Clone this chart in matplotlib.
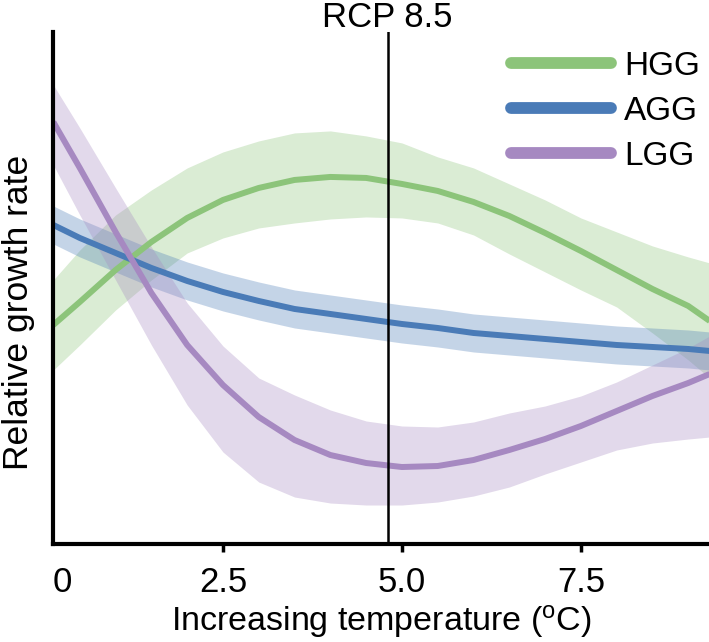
import matplotlib.pyplot as plt
from matplotlib.lines import Line2D

plt.rcParams['font.family'] = ['Liberation Sans', 'DejaVu Sans']

# temperature increase (oC) and relative growth rate (arbitrary units)
temp = [0.13, 0.5, 1.0, 1.5, 2.0, 2.5, 3.0, 3.5, 4.0, 4.5,
        5.0, 5.5, 6.0, 6.5, 7.0, 7.5, 8.0, 8.5, 9.0, 9.3]

hgg = [219, 242, 274, 302, 326, 344, 356, 364, 367, 366,
       360, 353, 342, 328, 311, 293, 274, 255, 238, 223]
hgg_hi = [264, 294, 329, 354, 376, 392, 403, 411, 413, 408,
          401, 387, 376, 360, 344, 326, 312, 298, 287, 281]
hgg_lo = [174, 199, 234, 264, 291, 306, 316, 321, 325, 327,
          326, 321, 309, 290, 272, 254, 237, 211, 184, 166]

agg = [319, 306, 291, 276, 263, 252, 243, 235, 230, 225,
       220, 216, 211, 208, 205, 202, 199, 197, 195, 193]
agg_hi = [338, 325, 310, 295, 282, 271, 262, 254, 249, 244,
          239, 235, 230, 227, 224, 221, 218, 216, 214, 212]
agg_lo = [300, 287, 272, 257, 244, 233, 224, 216, 211, 206,
          201, 197, 192, 189, 186, 183, 180, 178, 176, 174]

lgg = [422, 376, 312, 251, 199, 159, 127, 104, 89, 81,
       77, 78, 84, 94, 105, 118, 133, 148, 161, 170]
lgg_hi = [459, 416, 356, 297, 241, 198, 166, 149, 134, 123,
          118, 117, 122, 131, 138, 148, 162, 179, 196, 208]
lgg_lo = [379, 329, 264, 199, 139, 92, 62, 47, 41, 39,
          39, 42, 48, 57, 70, 82, 94, 101, 105, 107]

rcp85 = 4.8
tick_pos = [0.25, 2.5, 5.0, 7.5]
tick_labels = ['0', '2.5', '5.0', '7.5']

green = '#8cc47a'
blue = '#4a7bb7'
purple = '#a689c1'

fig = plt.figure(figsize=(7.09, 6.42), dpi=100)
ax = fig.add_axes([0.0748, 0.1526, 0.9252, 0.7977])

series = [(hgg, hgg_lo, hgg_hi, green, 'HGG'),
          (agg, agg_lo, agg_hi, blue, 'AGG'),
          (lgg, lgg_lo, lgg_hi, purple, 'LGG')]

for mid, lo, hi, col, name in series:
    ax.fill_between(temp, lo, hi, color=col, alpha=0.32, lw=0)
for mid, lo, hi, col, name in series:
    ax.plot(temp, mid, color=col, lw=4.3, solid_capstyle='butt',
            solid_joinstyle='round')

ax.axvline(rcp85, color='black', lw=1.8, zorder=5)
ax.text(rcp85, 1.01, 'RCP 8.5', transform=ax.get_xaxis_transform(),
        ha='center', va='baseline', fontsize=25)

ax.set_xlim(0.126, 9.29)
ax.set_ylim(0, 512)

for side in ['top', 'right']:
    ax.spines[side].set_visible(False)
for side in ['left', 'bottom']:
    ax.spines[side].set_linewidth(3)
ax.spines['left'].set_zorder(6)

ax.set_yticks([])
ax.set_xticks(tick_pos)
ax.set_xticklabels(tick_labels, fontsize=25)
ax.tick_params(axis='x', length=6, width=2.5, pad=10)
ax.xaxis.get_major_ticks()[0].tick1line.set_visible(False)

ax.set_xlabel('Increasing temperature ($\\mathregular{^{o}}$C)', fontsize=24.5, labelpad=3)
ax.set_ylabel('Relative growth rate', fontsize=25.5)
ax.yaxis.set_label_coords(-0.027, 0.453)

handles = [Line2D([], [], color=c, lw=8.5, solid_capstyle='round')
           for c in [green, blue, purple]]
ax.legend(handles, ['HGG', 'AGG', 'LGG'], loc='upper left',
          bbox_to_anchor=(511 / 709, 1 - 51 / 642), bbox_transform=fig.transFigure,
          frameon=False, fontsize=24, handlelength=3.0, handletextpad=0.4,
          labelspacing=0.42, borderpad=0, borderaxespad=0)

fig.savefig('out.png', dpi=100)
